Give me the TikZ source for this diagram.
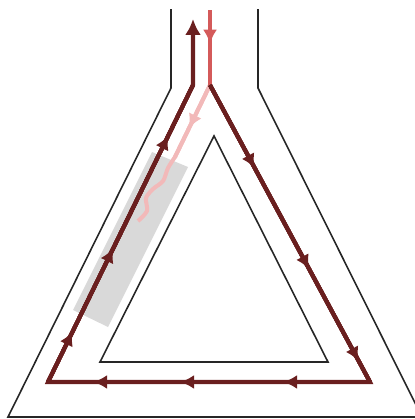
\documentclass[tikz,border=0pt]{standalone}
\usetikzlibrary{arrows.meta,decorations.markings}

\definecolor{loopred}{HTML}{6A1F1F}
\definecolor{inred}{HTML}{D45A5A}
\definecolor{fadered}{HTML}{F2B9B9}
\definecolor{patchgray}{HTML}{D9D9D9}

\tikzset{
  wall/.style={black!85, line width=0.9pt},
  loopline/.style={loopred, line width=2.3pt, line join=miter},
  inline/.style={inred, line width=2.3pt},
  fadeline/.style={fadered, line width=2.3pt, line join=round},
  flowtip/.style={decoration={markings,
      mark=at position #1 with {\arrow{Latex[length=8pt,width=8pt]}}},
    postaction={decorate}},
}

\begin{document}
\begin{tikzpicture}[x=0.02cm, y=-0.02cm]

  % frame: one pixel of the reference is one unit here
  \useasboundingbox (0,0) rectangle (415,419);

  % ------------------------------------------------------------ corners
  \coordinate (inTop)  at (210,10);   % feed comes in from the top
  \coordinate (jR)     at (210,85);   % feed joins the loop
  \coordinate (botR)   at (370,382);
  \coordinate (botL)   at (48,382);
  \coordinate (jL)     at (193,85);   % loop leaves through the neck
  \coordinate (outTop) at (193,19);
  \coordinate (bend)   at (175,157);  % pale branch starts to wander

  % grey patch on the left leg, drawn first so everything sits on it
  \fill[patchgray] (152,152) -- (188,167) -- (108,327) -- (73,310) -- cycle;

  % ------------------------------------------------------------ walls
  \draw[wall] (171,9) -- (171,88) -- (8,417) -- (422,417) -- (258,88) -- (258,9);
  \draw[wall] (214,136) -- (100,362) -- (328,362) -- cycle;

  % ------------------------------------------------------ pale branch
  \draw[fadeline] (jR) -- plot[smooth] coordinates {(bend) (168,168) (163,181)
      (153,189) (146,198) (147,211) (138,221)};
  \draw[fadeline, flowtip=0.6] (jR) -- (bend);

  % ------------------------------------------------------------ feed
  \draw[inline, flowtip=0.45] (inTop) -- (jR);

  % ------------------------------------------------------------ loop
  \draw[loopline, -{Latex[length=9pt,width=9pt]}]
    (jR) -- (botR) -- (botL) -- (jL) -- (outTop);
  \foreach \p in {0.28, 0.62, 0.93}
    \draw[loopline, flowtip=\p] (jR) -- (botR);
  \foreach \p in {0.27, 0.59, 0.86}
    \draw[loopline, flowtip=\p] (botR) -- (botL);
  \foreach \p in {0.17, 0.45, 0.83}
    \draw[loopline, flowtip=\p] (botL) -- (jL);

\end{tikzpicture}
\end{document}
